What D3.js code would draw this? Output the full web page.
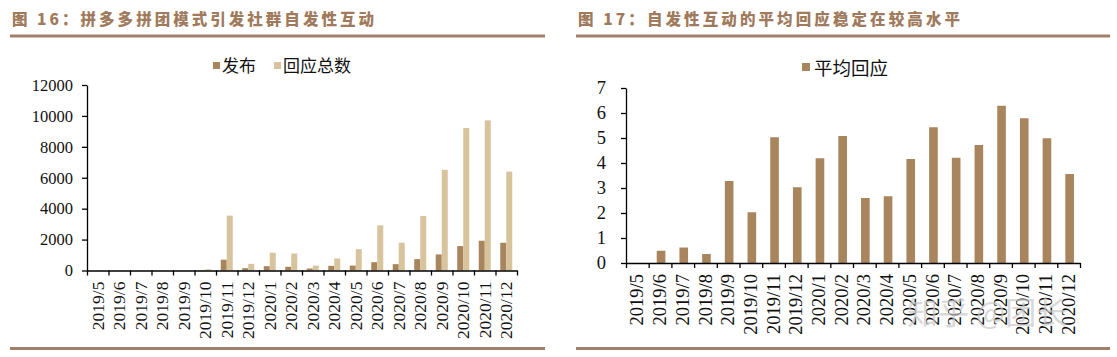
<!DOCTYPE html>
<html>
<head>
<meta charset="utf-8">
<script src="https://cdn.jsdelivr.net/npm/d3@7"></script>
<style>
html,body{margin:0;padding:0;background:#fff;}
svg{display:block;}
.serif{font-family:"Liberation Serif","Times New Roman",serif;}
</style>
</head>
<body>
<svg id="c" width="1117" height="357"></svg>
<script>
// ---- data ----
const months = ["2019/5","2019/6","2019/7","2019/8","2019/9","2019/10","2019/11","2019/12",
  "2020/1","2020/2","2020/3","2020/4","2020/5","2020/6","2020/7","2020/8","2020/9","2020/10","2020/11","2020/12"];
const posts =   [0, 0, 0, 0, 5, 20, 700, 150, 280, 240, 130, 300, 320, 540, 410, 735, 1040, 1580, 1925, 1795];
const replies = [0, 0, 0, 0, 10, 80, 3550, 430, 1150, 1100, 320, 780, 1380, 2920, 1800, 3530, 6510, 9215, 9710, 6400];
const avgReply = [0, 0.49, 0.62, 0.36, 3.28, 2.03, 5.03, 3.03, 4.19, 5.08, 2.6, 2.67, 4.16, 5.43, 4.21, 4.72, 6.29, 5.79, 4.99, 3.56];
const leftTicks = [0, 2000, 4000, 6000, 8000, 10000, 12000];
const rightTicks = [0, 1, 2, 3, 4, 5, 6, 7];
const seriesLeft = ["发布", "回应总数"];
const seriesRight = ["平均回应"];
const titleLeft = "图 16：拼多多拼团模式引发社群自发性互动";
const titleRight = "图 17：自发性互动的平均回应稳定在较高水平";
const watermark = "知乎 @团长";

const BROWN = "#a8855d", TAN = "#d8c49c", RULE = "#a0806a", TITLE = "#a07a5c";
const svg = d3.select("#c");

// ---- titles and rules ----
function header(x0, x1, title, tlen) {
  svg.append("text").attr("x", x0 + 2).attr("y", 25)
    .attr("font-family", "'Noto Sans CJK SC', sans-serif").attr("font-weight", 900)
    .attr("font-size", 15.5).attr("fill", TITLE)
    .attr("textLength", tlen).attr("lengthAdjust", "spacing").text(title);
  svg.append("line").attr("x1", x0).attr("x2", x1).attr("y1", 36).attr("y2", 36)
    .attr("stroke", RULE).attr("stroke-width", 3);
  svg.append("line").attr("x1", x0).attr("x2", x1).attr("y1", 348.5).attr("y2", 348.5)
    .attr("stroke", RULE).attr("stroke-width", 3);
}
header(10, 545, titleLeft, 362);
header(576, 1110, titleRight, 382);

function axes(g, x, y, ticks, fsY, fsX, pad, labelTop) {
  const [x0, x1] = x.range();
  // y axis
  const ya = g.append("g").attr("transform", `translate(${x0},0)`)
    .call(d3.axisLeft(y).tickValues(ticks).tickFormat(d3.format("d")).tickSize(5).tickSizeOuter(0).tickPadding(pad));
  ya.attr("font-family", null).attr("font-size", null);
  ya.selectAll("text").attr("class", "serif").style("font-size", fsY + "px").attr("fill", "#111");
  ya.selectAll("line,path").attr("stroke", "#000").attr("stroke-width", 1.3);
  // x axis: boundary ticks
  const idx = d3.scaleLinear().domain([0, months.length]).range([x0, x1]);
  const xa = g.append("g").attr("transform", `translate(0,${y(0)})`)
    .call(d3.axisBottom(idx).tickValues(d3.range(months.length + 1)).tickSize(5).tickSizeOuter(0).tickFormat(""));
  xa.selectAll("line,path").attr("stroke", "#000").attr("stroke-width", 1.3);
  // x labels
  const xl = g.append("g").attr("transform", `translate(0,${y(0)})`)
    .call(d3.axisBottom(x).tickSize(0).tickPadding(0));
  xl.attr("font-family", null).attr("font-size", null);
  xl.select(".domain").remove();
  xl.selectAll("text")
    .attr("class", "serif").style("font-size", fsX + "px").attr("fill", "#111")
    .attr("text-anchor", "end").attr("transform", "rotate(-90)")
    .attr("x", -labelTop).attr("y", 0).attr("dy", "0.33em");
}

// ---- left chart ----
{
  const g = svg.append("g");
  const x = d3.scaleBand().domain(months).range([87, 517]).padding(0);
  const y = d3.scaleLinear().domain([0, 12000]).range([270.5, 85]);
  const sub = d3.scaleBand().domain(seriesLeft).range([0, x.bandwidth()]).paddingInner(0).paddingOuter(0.79);
  const color = d3.scaleOrdinal().domain(seriesLeft).range([BROWN, TAN]);
  const rows = months.map((m, i) => ({ m, v: [posts[i], replies[i]] }));
  g.selectAll("g.grp").data(rows).join("g").attr("class", "grp")
    .attr("transform", d => `translate(${x(d.m)},0)`)
    .selectAll("rect").data(d => seriesLeft.map((s, k) => ({ s, v: d.v[k] })))
    .join("rect")
    .attr("x", d => sub(d.s)).attr("width", sub.bandwidth())
    .attr("y", d => y(d.v)).attr("height", d => y(0) - y(d.v))
    .attr("fill", d => color(d.s));
  axes(g, x, y, leftTicks, 16.5, 17.5, 9, 11);
  // legend
  const lg = svg.append("g").attr("font-family", "'Noto Sans CJK SC', sans-serif").attr("font-size", 17).attr("fill", "#111");
  const lx = [213, 274];
  seriesLeft.forEach((s, k) => {
    lg.append("rect").attr("x", lx[k]).attr("y", 62).attr("width", 7).attr("height", 7).attr("fill", color(s));
    lg.append("text").attr("x", lx[k] + 9).attr("y", 72).text(s);
  });
}

// ---- right chart ----
{
  const g = svg.append("g");
  const x = d3.scaleBand().domain(months).range([626, 1080]).padding(0);
  const y = d3.scaleLinear().domain([0, 7]).range([263, 88]);
  const bw = x.bandwidth() * 0.38;
  g.selectAll("rect").data(months.map((m, i) => ({ m, v: avgReply[i] }))).join("rect")
    .attr("x", d => x(d.m) + (x.bandwidth() - bw) / 2 + 1).attr("width", bw)
    .attr("y", d => y(d.v)).attr("height", d => y(0) - y(d.v))
    .attr("fill", BROWN);
  axes(g, x, y, rightTicks, 18.5, 18.5, 15, 11);
  const lg = svg.append("g").attr("font-family", "'Noto Sans CJK SC', sans-serif").attr("font-size", 18.5).attr("fill", "#111");
  lg.append("rect").attr("x", 802).attr("y", 63).attr("width", 8).attr("height", 8).attr("fill", BROWN);
  lg.append("text").attr("x", 814).attr("y", 74.5).text(seriesRight[0]);
  // watermark
  svg.append("text").attr("x", 907).attr("y", 324)
    .attr("font-family", "'Noto Sans CJK SC', sans-serif").attr("font-size", 31)
    .attr("fill", "#c8c8c8").attr("fill-opacity", 0.7).text(watermark);
}
</script>
</body>
</html>
